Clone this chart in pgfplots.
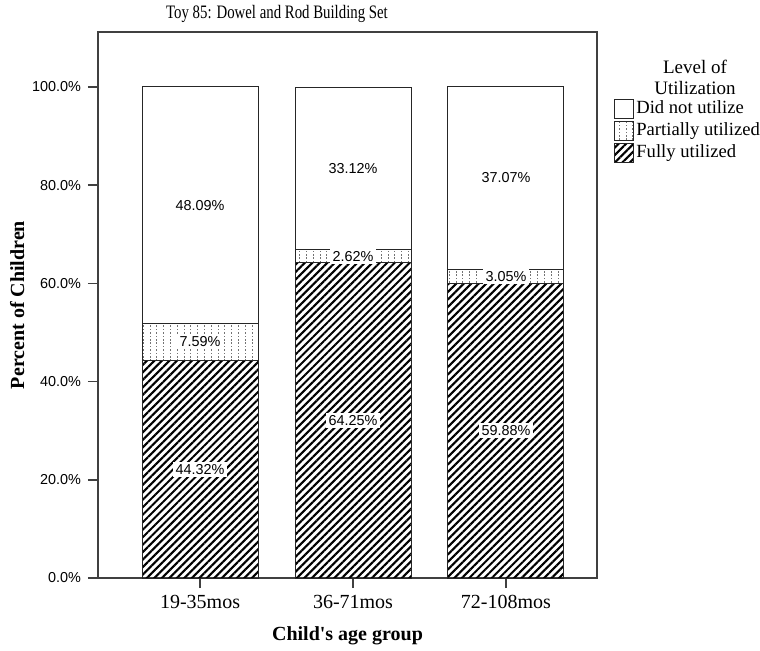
\documentclass[border=0pt]{standalone}
\usepackage{fontspec}
\setmainfont{Liberation Serif}
\setsansfont{Liberation Sans}
\usepackage{graphicx}
\usepackage{pgfplots}
\pgfplotsset{compat=1.18}
\usepackage{pgfplotstable}
\usetikzlibrary{patterns,patterns.meta}

% dotted columns for "Partially utilized"
\pgfdeclarepatternformonly{vdots}{\pgfqpoint{-0.2pt}{-0.2pt}}{\pgfqpoint{3.6pt}{1.9pt}}{\pgfqpoint{3.4pt}{1.7pt}}{%
  \pgfpathrectangle{\pgfqpoint{0pt}{0pt}}{\pgfqpoint{0.5pt}{0.8pt}}\pgfusepath{fill}}

\pgfplotstableread{
x full part none
0 44.32 7.59 48.09
1 64.25 2.62 33.12
2 59.88 3.05 37.07
}\toydata

\pgfplotsset{
  toyaxis/.style={scale only axis, width=249.5pt, height=273pt,
    xmin=-0.667, xmax=2.595, ymin=0, ymax=111.2,
    at={(0,0)}, anchor=south west},
  seglabel/.style={draw=none, nodes near coords, point meta=explicit,
    nodes near coords={\pgfmathprintnumber[fixed,fixed zerofill,precision=2,assume math mode=true]{\pgfplotspointmeta}\%},
    every node near coord/.append style={anchor=center, fill=white, inner xsep=1.5pt, inner ysep=1.2pt,
      font=\sffamily\fontsize{7.2}{8}\selectfont}},
}

\begin{document}
\begin{tikzpicture}
\path[use as bounding box] (-49pt,-36pt) rectangle (331pt,289pt);

\begin{axis}[toyaxis,
    ybar stacked, bar width=58pt,
    axis line style={draw=black!75, line width=0.7pt},
    xtick={0,1,2}, xticklabels={19-35mos,36-71mos,72-108mos},
    ytick={0,20,...,100},
    yticklabel={\pgfmathprintnumber[fixed,fixed zerofill,precision=1,assume math mode=true]{\tick}\%},
    tick align=outside, xtick pos=bottom, ytick pos=left, major tick length=5pt,
    tick style={draw=black!75, line width=0.7pt},
    y tick label style={font=\sffamily\fontsize{7.2}{8}\selectfont},
    x tick label style={font=\fontsize{10}{12}\selectfont},
    xlabel={\textbf{Child\textquotesingle s age group}},
    xlabel style={font=\fontsize{10}{12}\selectfont, at={(axis description cs:0.5,-0.106)}, anchor=center},
    ylabel={\textbf{Percent of Children}},
    ylabel style={font=\fontsize{10}{12}\selectfont, at={(axis description cs:-0.162,0.5)}, anchor=center, rotate=0},
    legend image code/.code={\draw[#1] (0pt,-4.75pt) rectangle (9.5pt,4.75pt);},
    reverse legend,
    legend cell align=left,
    legend style={at={(1.034,0.88)}, anchor=north west, draw=none, fill=none, inner sep=0pt,
      row sep=0.3pt, font=\fontsize{9.3}{10}\selectfont,
      nodes={inner sep=1pt, text height=6.8pt, text depth=2pt}},
  ]
  \addplot[draw=black!85, line width=0.5pt, pattern={Lines[angle=45,distance=2.65pt,line width=1.05pt]}, pattern color=black]
    table[x=x, y=full] {\toydata};
  \addlegendentry{Fully utilized}
  \addplot[draw=black!85, line width=0.5pt, pattern=vdots, pattern color=black!55]
    table[x=x, y=part] {\toydata};
  \addlegendentry{Partially utilized}
  \addplot[draw=black!85, line width=0.5pt, fill=white]
    table[x=x, y=none] {\toydata};
  \addlegendentry{Did not utilize}
\end{axis}

\begin{axis}[toyaxis, hide axis, clip=false]
  \addplot[seglabel] table[x=x, y expr=\thisrow{full}/2, meta=full] {\toydata};
  \addplot[seglabel] table[x=x, y expr=\thisrow{full}+\thisrow{part}/2, meta=part] {\toydata};
  \addplot[seglabel] table[x=x, y expr=\thisrow{full}+\thisrow{part}+\thisrow{none}/2, meta=none] {\toydata};
\end{axis}

\node[font=\fontsize{9.5}{11}\selectfont] at (89.5pt,282pt) {\scalebox{0.78}[1]{Toy 85: Dowel and Rod Building Set}};
\node[font=\fontsize{9.5}{10.5}\selectfont, align=center] at (298.5pt,250.25pt) {Level of\\Utilization};
\end{tikzpicture}
\end{document}
